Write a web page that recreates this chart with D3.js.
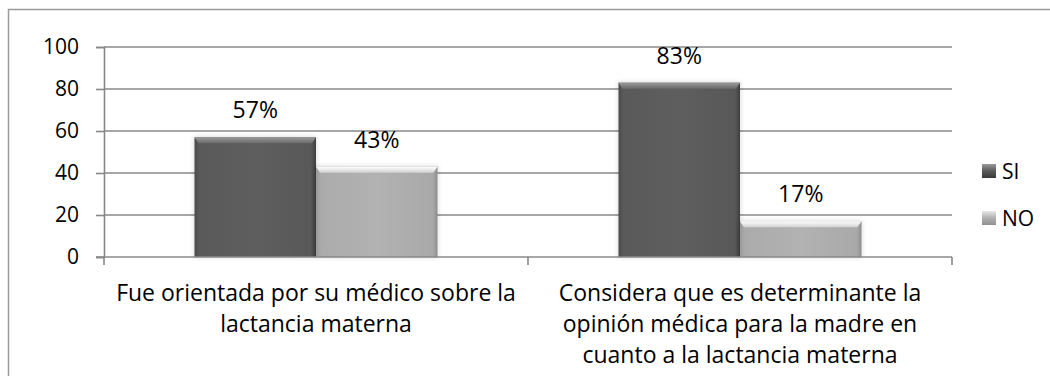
<!DOCTYPE html>
<html>
<head>
<meta charset="utf-8">
<script src="https://cdn.jsdelivr.net/npm/d3@7"></script>
<style>
  html, body { margin: 0; padding: 0; background: #fff; }
  svg { display: block; }
  text { font-family: "Open Sans", "Liberation Sans", sans-serif; fill: #000; }
</style>
</head>
<body>
<svg id="chart" width="1050" height="376"></svg>
<script>
// Survey answers: share of mothers answering SI / NO for each question
const categories = [
  ["Fue orientada por su médico sobre la", "lactancia materna"],
  ["Considera que es determinante la", "opinión médica para la madre en", "cuanto a la lactancia materna"]
];
const seriesNames = ["SI", "NO"];
const siValues = [57, 83];
const noValues = [43, 17];
const yTicks = [0, 20, 40, 60, 80, 100];

const svg = d3.select("#chart");
const W = 1050, H = 376;

// chart frame
svg.append("rect")
  .attr("x", 8.5).attr("y", 9.5)
  .attr("width", W).attr("height", H)
  .attr("fill", "#fff").attr("stroke", "#9a9a9a").attr("stroke-width", 1.5);

const plot = { left: 104, right: 952, top: 47, bottom: 257 };

const catKeys = categories.map((c, i) => i);
const x0 = d3.scaleBand().domain(catKeys).range([plot.left, plot.right]).paddingInner(0).paddingOuter(0);
// bars occupy 243 of each 424px band (gap width ~150%)
const groupW = x0.bandwidth() * 243 / 424;
const x1 = d3.scaleBand().domain(seriesNames).range([0, groupW]).padding(0);
const y = d3.scaleLinear().domain([0, 100]).range([plot.bottom, plot.top]);

const defs = svg.append("defs");
function grad(id, stops, vertical) {
  const g = defs.append("linearGradient").attr("id", id)
    .attr("x1", 0).attr("y1", 0).attr("x2", vertical ? 0 : 1).attr("y2", vertical ? 1 : 0);
  stops.forEach(s => g.append("stop").attr("offset", s[0]).attr("stop-color", s[1]));
}
grad("siBody", [[0, "#4a4a4a"], [0.04, "#5a5a5a"], [0.5, "#5e5e5e"], [0.96, "#585858"], [1, "#3e3e3e"]], false);
grad("noBody", [[0, "#9a9a9a"], [0.04, "#ababab"], [0.5, "#b2b2b2"], [0.96, "#a9a9a9"], [1, "#8e8e8e"]], false);
grad("siTop", [[0, "#9a9a9a"], [1, "#6a6a6a"]], true);
grad("noTop", [[0, "#ffffff"], [1, "#d0d0d0"]], true);
grad("siLeg", [[0, "#9a9a9a"], [0.5, "#5a5a5a"], [1, "#3a3a3a"]], true);
grad("noLeg", [[0, "#e8e8e8"], [0.5, "#b0b0b0"], [1, "#909090"]], true);
defs.append("filter").attr("id", "halo").attr("x", -0.1).attr("y", -0.1).attr("width", 1.2).attr("height", 1.2)
  .append("feGaussianBlur").attr("stdDeviation", 2);

// gridlines
const gridG = svg.append("g");
gridG.selectAll("line").data(yTicks.filter(t => t > 0)).join("line")
  .attr("x1", plot.left).attr("x2", plot.right)
  .attr("y1", d => y(d)).attr("y2", d => y(d))
  .attr("stroke", "#888").attr("stroke-width", 1.6);

// y axis
const yAxis = svg.append("g").attr("transform", `translate(${plot.left},0)`)
  .call(d3.axisLeft(y).tickValues(yTicks).tickSize(8).tickPadding(17));
yAxis.select(".domain").attr("stroke", "#888").attr("stroke-width", 1.6);
yAxis.selectAll(".tick line").attr("stroke", "#888").attr("stroke-width", 1.6);
yAxis.selectAll(".tick text").style("font-size", "21px").attr("fill", "#000");

const rows = catKeys.map(i => ({ i, vals: [siValues[i], noValues[i]] }));

// bars
const groups = svg.append("g").selectAll("g").data(rows).join("g")
  .attr("transform", d => `translate(${x0(d.i) + (x0.bandwidth() - groupW) / 2},0)`);

groups.each(function (d) {
  const g = d3.select(this);
  seriesNames.forEach((s, k) => {
    const v = d.vals[k];
    const bx = x1(s), bw = x1.bandwidth(), by = y(v), bh = y(0) - y(v);
    g.append("rect").attr("x", bx - 1).attr("y", by - 1).attr("width", bw + 2).attr("height", bh + 2)
      .attr("fill", "#000").attr("opacity", 0.12).attr("filter", "url(#halo)");
    g.append("rect").attr("x", bx).attr("y", by).attr("width", bw).attr("height", bh)
      .attr("fill", k === 0 ? "url(#siBody)" : "url(#noBody)");
    // bevelled top edge
    g.append("path")
      .attr("d", `M${bx},${by}L${bx + bw},${by}L${bx + bw - 4},${by + 6}L${bx + 4},${by + 6}Z`)
      .attr("fill", k === 0 ? "url(#siTop)" : "url(#noTop)");
    g.append("text")
      .attr("x", bx + bw / 2).attr("y", by - 19)
      .attr("text-anchor", "middle").style("font-size", "23px")
      .text(v + "%");
  });
});

// x axis
svg.append("line").attr("x1", plot.left - 8).attr("x2", plot.right)
  .attr("y1", y(0)).attr("y2", y(0)).attr("stroke", "#888").attr("stroke-width", 1.6);
const xTickPos = catKeys.map(i => x0(i)).concat([plot.right]);
svg.append("g").selectAll("line").data(xTickPos).join("line")
  .attr("x1", d => d).attr("x2", d => d)
  .attr("y1", y(0)).attr("y2", y(0) + 8)
  .attr("stroke", "#888").attr("stroke-width", 1.6);

// category labels
svg.append("g").selectAll("text").data(rows).join("text")
  .attr("text-anchor", "middle")
  .style("font-size", "23px")
  .each(function (d) {
    const t = d3.select(this);
    categories[d.i].forEach((line, j) => {
      t.append("tspan")
        .attr("x", x0(d.i) + x0.bandwidth() / 2)
        .attr("y", 301 + j * 31)
        .text(line);
    });
  });

// legend
const legend = svg.append("g").selectAll("g").data(seriesNames).join("g")
  .attr("transform", (d, i) => `translate(982,${164 + i * 47})`);
legend.append("rect").attr("width", 14).attr("height", 14)
  .attr("fill", (d, i) => i === 0 ? "url(#siLeg)" : "url(#noLeg)");
legend.append("text").attr("x", 20).attr("y", 7).attr("dy", "0.36em")
  .style("font-size", "21px").text(d => d);
</script>
</body>
</html>
